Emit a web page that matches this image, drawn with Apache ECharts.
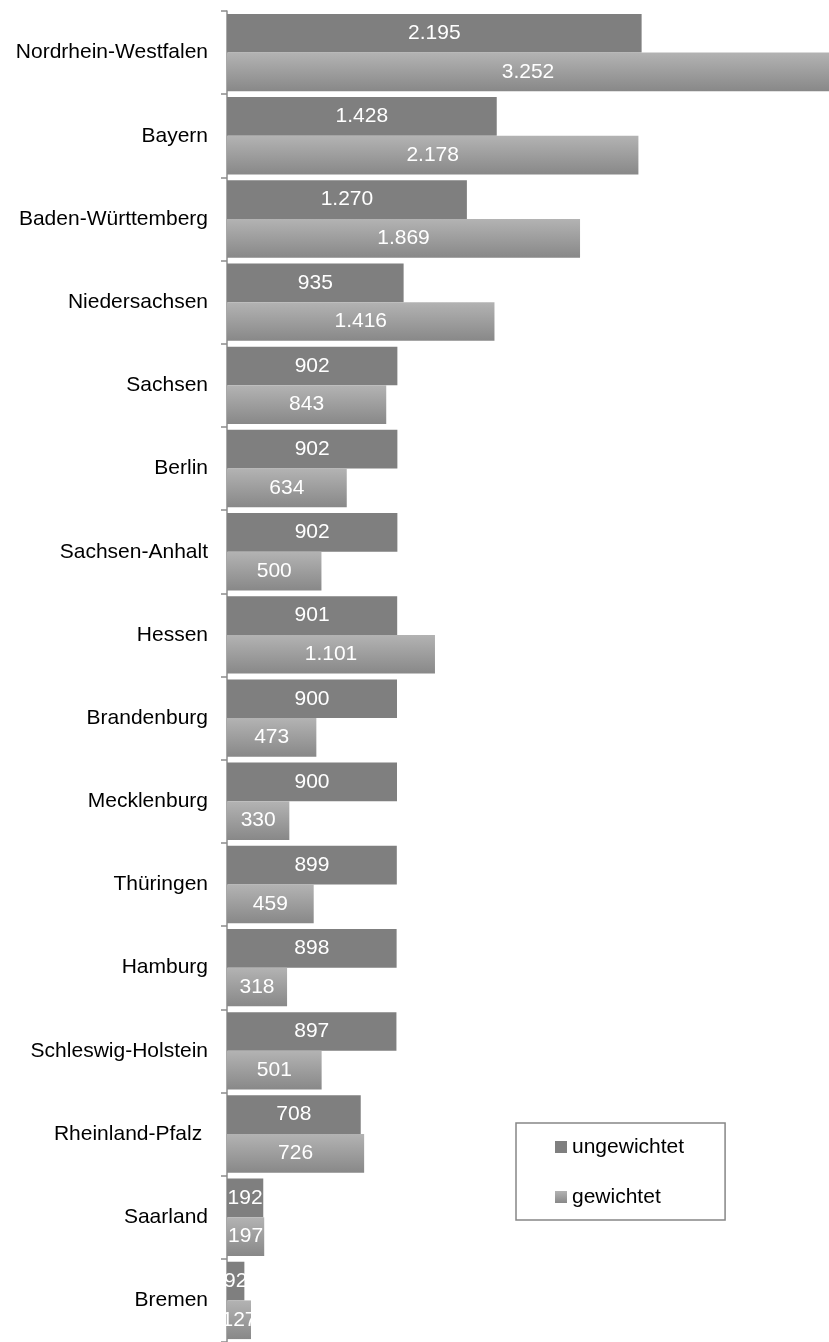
<!DOCTYPE html>
<html>
<head>
<meta charset="utf-8">
<script src="https://cdn.jsdelivr.net/npm/echarts@6/dist/echarts.min.js"></script>
<style>
html,body{margin:0;padding:0;background:#fff;}
#chart{width:829px;height:1342px;}
</style>
</head>
<body>
<div id="chart"></div>
<script>
const categories = ["Nordrhein-Westfalen","Bayern","Baden-Württemberg","Niedersachsen","Sachsen","Berlin","Sachsen-Anhalt","Hessen","Brandenburg","Mecklenburg","Thüringen","Hamburg","Schleswig-Holstein","Rheinland-Pfalz ","Saarland","Bremen"];
const ungewichtet = [2195,1428,1270,935,902,902,902,901,900,900,899,898,897,708,192,92];
const gewichtet = [3252,2178,1869,1416,843,634,500,1101,473,330,459,318,501,726,197,127];
const seriesNames = ["ungewichtet","gewichtet"];

const fontFamily = "'Liberation Sans', Arial, sans-serif";
const fmt = v => {
  const s = String(v);
  return s.length > 3 ? s.slice(0, s.length - 3) + "." + s.slice(s.length - 3) : s;
};
const labelCfg = {
  show: true,
  position: 'inside',
  color: '#ffffff',
  fontSize: 21,
  fontFamily: fontFamily,
  formatter: p => fmt(p.value)
};

const chart = echarts.init(document.getElementById('chart'), null, {renderer: 'canvas'});
chart.setOption({
  animation: false,
  backgroundColor: '#ffffff',
  grid: {left: 227, top: 11, right: 0, height: 1336, containLabel: false},
  xAxis: {
    type: 'value', min: 0, max: 3187, show: false
  },
  yAxis: {
    type: 'category',
    data: categories,
    inverse: true,
    axisLine: {show: true, lineStyle: {color: '#8c8c8c', width: 1.5}},
    axisTick: {show: true, length: 6, lineStyle: {color: '#8c8c8c', width: 1.5}},
    axisLabel: {color: '#000000', fontSize: 21, fontFamily: fontFamily, margin: 19},
    splitLine: {show: false}
  },
  legend: {
    orient: 'vertical',
    left: 516,
    top: 1123,
    data: seriesNames,
    itemWidth: 12,
    itemHeight: 12,
    itemGap: 26,
    icon: 'rect',
    backgroundColor: '#ffffff',
    borderColor: '#868686',
    borderWidth: 1.5,
    borderRadius: 0,
    padding: [12, 41, 11, 39],
    textStyle: {color: '#000000', fontSize: 21, fontFamily: fontFamily, lineHeight: 24, padding: [0,0,0,0]},
    itemStyle: {borderWidth: 0}
  },
  series: [
    {
      name: seriesNames[0],
      type: 'bar',
      data: ungewichtet,
      barGap: '0%',
      barCategoryGap: '7%',
      clip: true,
      itemStyle: {color: '#7f7f7f'},
      label: labelCfg
    },
    {
      name: seriesNames[1],
      type: 'bar',
      data: gewichtet,
      barGap: '0%',
      barCategoryGap: '7%',
      clip: true,
      itemStyle: {
        color: new echarts.graphic.LinearGradient(0, 0, 0, 1, [
          {offset: 0, color: '#b3b3b3'},
          {offset: 1, color: '#888888'}
        ])
      },
      label: labelCfg
    }
  ]
});
</script>
</body>
</html>
